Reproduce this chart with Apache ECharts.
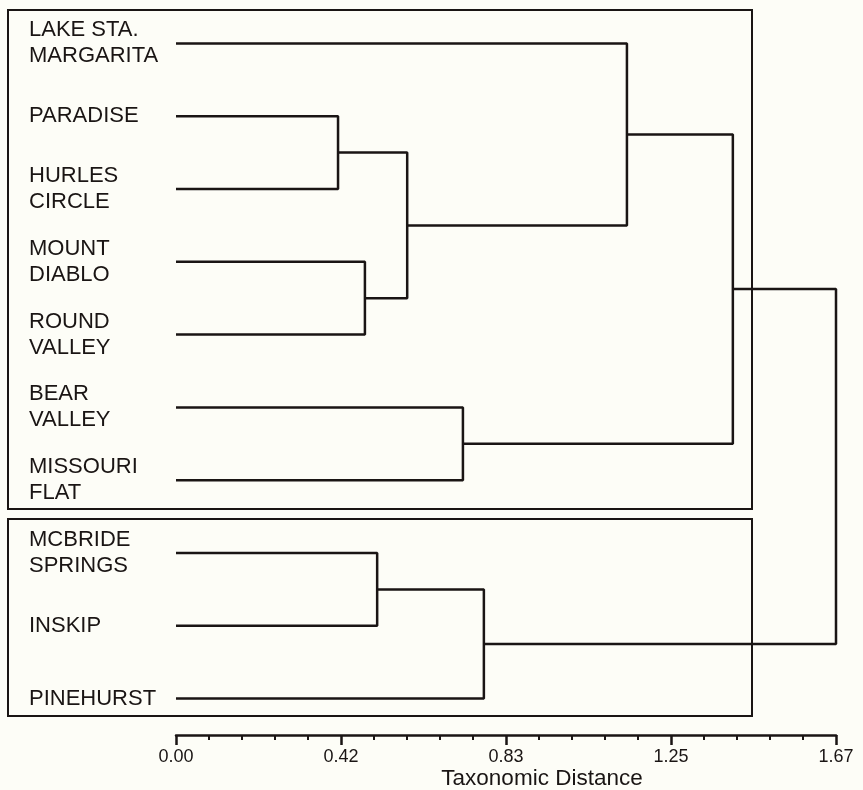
<!DOCTYPE html>
<html>
<head>
<meta charset="utf-8">
<script src="https://cdn.jsdelivr.net/npm/echarts@6/dist/echarts.min.js"></script>
<style>
html,body{margin:0;padding:0;background:#fdfdf7;}
#chart{width:863px;height:790px;}
</style>
</head>
<body>
<div id="chart"></div>
<script>
// Leaves (top to bottom)
const leaves = [
  'LAKE STA.\nMARGARITA',
  'PARADISE',
  'HURLES\nCIRCLE',
  'MOUNT\nDIABLO',
  'ROUND\nVALLEY',
  'BEAR\nVALLEY',
  'MISSOURI\nFLAT',
  'MCBRIDE\nSPRINGS',
  'INSKIP',
  'PINEHURST'
];
// Merges: [childA, childB, distance]; ids >= 10 refer to earlier merges (10 + index)
const mergeA = [1, 3, 10, 0, 5, 13, 7, 16, 15];
const mergeB = [2, 4, 11, 12, 6, 14, 8, 9, 17];
const mergeDist = [0.41, 0.478, 0.585, 1.141, 0.726, 1.409, 0.509, 0.779, 1.67];
// Axis
const tickLabels = ['0.00', '0.42', '0.83', '1.25', '1.67'];
const axisMax = 1.67;
const axisTitle = 'Taxonomic Distance';

const INK = '#1a1514';
const FONT = '"Liberation Sans", Arial, sans-serif';
const nodes = leaves.map((l, i) => ({ h: 0, y: i }));
const series = [];
mergeDist.forEach((h, k) => {
  const a = nodes[mergeA[k]], b = nodes[mergeB[k]];
  nodes.push({ h: h, y: (a.y + b.y) / 2 });
  series.push({
    type: 'line',
    xAxisIndex: 0,
    yAxisIndex: 1,
    symbol: 'none',
    silent: true,
    clip: false,
    animation: false,
    lineStyle: { color: INK, width: 2.5 },
    data: [[a.h, a.y], [h, a.y], [h, b.y], [b.h, b.y]]
  });
});

const step = axisMax / (tickLabels.length - 1);
const chart = echarts.init(document.getElementById('chart'), null, { renderer: 'canvas' });
chart.setOption({
  backgroundColor: '#fdfdf7',
  animation: false,
  textStyle: { fontFamily: FONT },
  title: {
    text: axisTitle,
    left: 537,
    top: 762,
    textAlign: 'center',
    textStyle: { fontSize: 22.5, fontWeight: 'normal', color: INK, fontFamily: FONT }
  },
  grid: { left: 176, right: 27, top: 7, bottom: 55, containLabel: false },
  xAxis: {
    type: 'value',
    min: 0,
    max: axisMax,
    interval: step,
    axisLine: { show: true, onZero: false, lineStyle: { color: INK, width: 2.5 } },
    axisTick: { show: true, length: 10, lineStyle: { color: INK, width: 2.5 } },
    minorTick: { show: true, splitNumber: 5, length: 5, lineStyle: { color: INK, width: 2 } },
    splitLine: { show: false },
    minorSplitLine: { show: false },
    axisLabel: {
      margin: 13,
      fontSize: 18,
      color: INK,
      fontFamily: FONT,
      showMinLabel: true,
      showMaxLabel: true,
      formatter: function (v) {
        const i = Math.round(v / step);
        return tickLabels[i] !== undefined ? tickLabels[i] : '';
      }
    }
  },
  yAxis: [
    {
      type: 'category',
      data: leaves,
      inverse: true,
      axisLine: { show: false },
      axisTick: { show: false },
      splitLine: { show: false },
      axisLabel: {
        align: 'left',
        margin: 147,
        fontSize: 22,
        lineHeight: 26,
        padding: [5, 0, 0, 0],
        color: INK,
        fontFamily: FONT
      }
    },
    {
      type: 'value',
      min: -0.5,
      max: leaves.length - 0.5,
      inverse: true,
      show: false,
      splitLine: { show: false }
    }
  ],
  graphic: [
    { type: 'rect', shape: { x: 8, y: 10, width: 744, height: 499 }, style: { fill: 'none', stroke: INK, lineWidth: 2 }, silent: true },
    { type: 'rect', shape: { x: 8, y: 519, width: 744, height: 197 }, style: { fill: 'none', stroke: INK, lineWidth: 2 }, silent: true }
  ],
  series: series
});
</script>
</body>
</html>
